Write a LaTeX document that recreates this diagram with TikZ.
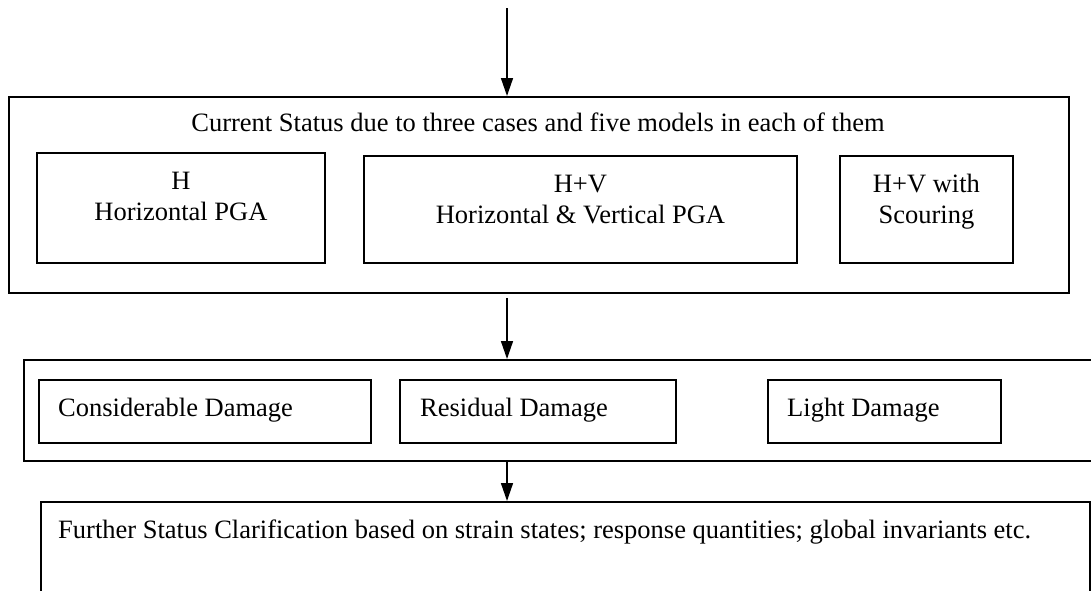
\documentclass[tikz,border=0pt]{standalone}
\usepackage{fontspec}
\setmainfont{Liberation Serif}
\usetikzlibrary{arrows.meta}
\begin{document}
\begin{tikzpicture}[x=1pt,y=-1pt,
  frame/.style={draw, line width=1.9pt, inner sep=0pt, anchor=north west},
  txt/.style={font=\fontsize{26.5}{31}\selectfont, inner sep=0pt},
  flow/.style={line width=1.5pt, -{Triangle[length=18pt,width=12pt]}}]
  \useasboundingbox (0,0) rectangle (1091,590);
  \clip (0,0) rectangle (1091,590);

  % outer frame: the three loading cases
  \node[frame, minimum width=1060pt, minimum height=196pt] (cases) at (8,96) {};
  \node[txt, anchor=base] (casestitle) at (538,131) {Current Status due to three cases and five models in each of them};
  \node[frame, minimum width=288pt, minimum height=110pt] (hcase) at (36,152) {};
  \node[frame, minimum width=433pt, minimum height=107pt] (hvcase) at (363,155) {};
  \node[frame, minimum width=173pt, minimum height=107pt] (scase) at (839,155) {};
  \node[txt, anchor=base] (hA) at (hcase.north |- 0,189) {H};
  \node[txt, anchor=base] (hB) at (hcase.north |- 0,220) {Horizontal PGA};
  \node[txt, anchor=base] (hvA) at (hvcase.north |- 0,192) {H+V};
  \node[txt, anchor=base] (hvB) at (hvcase.north |- 0,223) {Horizontal \& Vertical PGA};
  \node[txt, anchor=base] (sA) at (scase.north |- 0,192) {H+V with};
  \node[txt, anchor=base] (sB) at (scase.north |- 0,223) {Scouring};

  % damage levels
  \node[frame, minimum width=1100pt, minimum height=101pt] (damage) at (23,359) {};
  \node[frame, minimum width=332pt, minimum height=63pt] (heavy) at (38,379) {};
  \node[frame, minimum width=276pt, minimum height=63pt] (resid) at (399,379) {};
  \node[frame, minimum width=233pt, minimum height=63pt] (light) at (767,379) {};
  \node[txt, anchor=base west] (heavyT) at (58,416) {Considerable Damage};
  \node[txt, anchor=base west] (residT) at (420,416) {Residual Damage};
  \node[txt, anchor=base west] (lightT) at (787,416) {Light Damage};

  % further clarification
  \node[frame, minimum width=1049pt, minimum height=130pt] (further) at (40,501) {};
  \node[txt, anchor=base west] (furtherT) at (58,538) {Further Status Clarification based on strain states; response quantities; global invariants etc.};

  % connectors
  \coordinate (entry) at (507,8);
  \draw[flow] (entry) -- (entry |- cases.north);
  \draw[flow] ([yshift=-4pt]entry |- cases.south) -- (entry |- damage.north);
  \draw[flow] (entry |- damage.south) -- (entry |- further.north);
\end{tikzpicture}
\end{document}
